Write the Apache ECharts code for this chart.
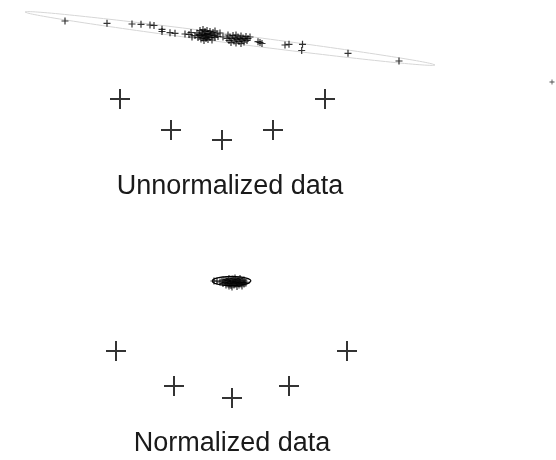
<!DOCTYPE html>
<html>
<head>
<meta charset="utf-8">
<title>Unnormalized vs normalized data</title>
<script src="https://cdn.jsdelivr.net/npm/echarts@6/dist/echarts.min.js"></script>
</head>
<body style="margin:0;background:#fff">
<div id="container" style="width:556px;height:460px"></div>
<script type="text/javascript">
// raw sample points (top panel)
var rawX = [65,107,132,141,150,154,162,162,170,175,185,189,191,192,
  195,197,198,199,200,200,201,202,202,203,203,204,204,205,205,206,206,207,207,208,208,209,210,210,211,212,212,213,214,215,215,217,218,220,223,
  227,228,229,230,231,232,233,234,235,236,236,237,238,239,240,241,241,242,243,244,245,246,247,248,250,
  258,260,262,285,289,302.5,301.7,348,399];
var rawY = [21,23.3,24,24.3,25,25.5,29.3,31.5,32.7,33.3,34,34.5,32.5,37,
  35.5,33,37.5,34.5,30.5,36,39,33,35.5,29.5,38,34,40.5,31.5,36,38.5,34.5,30.5,37,33.5,39.5,35,31.5,37.5,34,36,40,32.5,35.5,31,37.5,34,36.5,33,37,
  38.5,35,40.5,37,42.5,38.5,35.5,41,38,43,35,39.5,37,41.5,38.5,36,43.5,40,38,42,39,36.5,40.5,38.5,37,
  41.7,42.5,43.5,45,44.3,44.3,50.5,53.3,61];

// normalized sample points (bottom panel)
var normX = [214,217,220,222,223,224,225,226,226,227,228,228,229,229,230,230,231,231,232,232,233,233,234,234,235,235,236,236,237,237,238,238,239,239,240,240,241,242,242,243,244,244,245,246];
var normY = [281,281,282,281,283.5,280,282.5,285,279.5,282,284,280.5,286,278.5,282,283.5,280,285.5,281.5,287,279,283,281,285,282.5,278,284,280,286.5,282,279.5,283.5,281,285,282.5,278.5,284,281,286,282.5,280,284,282,283];

// big markers
var bigTopX = [120,171,222,273,325];
var bigTopY = [99,130,140,130,99];
var bigBotX = [116,174,232,289,347];
var bigBotY = [351,386,398,386,351];

// lone point on the right
var loneX = [552];
var loneY = [82];

// covariance ellipses: cx, cy, semi-major, semi-minor, angle (deg)
var rawEllipse = [230, 38.5, 206.7, 4.5, 7.37];
var normEllipse = [231.5, 281, 19.5, 4.5, 0];

function zip(xs, ys) {
  var out = [];
  for (var i = 0; i < xs.length; i++) out.push([xs[i], ys[i]]);
  return out;
}
function ellipsePts(e) {
  var pts = [], n = 160, t = e[4] * Math.PI / 180;
  for (var i = 0; i <= n; i++) {
    var a = 2 * Math.PI * i / n;
    var ex = e[2] * Math.cos(a), ey = e[3] * Math.sin(a);
    pts.push([e[0] + ex * Math.cos(t) - ey * Math.sin(t), e[1] + ex * Math.sin(t) + ey * Math.cos(t)]);
  }
  return pts;
}

var smallPlus = 'path://M2.9,0h1.2v2.9h2.9v1.2h-2.9v2.9h-1.2v-2.9h-2.9v-1.2h2.9z';
var bigPlus = 'path://M9,0h2v9h9v2h-9v9h-2v-9h-9v-2h9z';

var chart = echarts.init(document.getElementById('container'));
chart.setOption({
  animation: false,
  grid: { left: 0, right: 0, top: 0, bottom: 0 },
  xAxis: { type: 'value', min: 0, max: 556, show: false },
  yAxis: { type: 'value', min: 0, max: 460, inverse: true, show: false },
  graphic: [
    { type: 'text', x: 230, y: 187, style: { text: 'Unnormalized data', font: '27px "Liberation Sans"', fill: '#1a1a1a', textAlign: 'center', textVerticalAlign: 'middle' } },
    { type: 'text', x: 232, y: 444, style: { text: 'Normalized data', font: '27px "Liberation Sans"', fill: '#1a1a1a', textAlign: 'center', textVerticalAlign: 'middle' } }
  ],
  series: [
    { type: 'line', data: ellipsePts(rawEllipse), showSymbol: false, lineStyle: { color: '#d6d6d6', width: 1 }, z: 1 },
    { type: 'line', data: ellipsePts(normEllipse), showSymbol: false, lineStyle: { color: '#000', width: 1.3 }, z: 1 },
    { type: 'scatter', data: zip(rawX, rawY), symbol: smallPlus, symbolSize: 7, itemStyle: { color: '#000' }, z: 2 },
    { type: 'scatter', data: zip(normX, normY), symbol: smallPlus, symbolSize: 7, itemStyle: { color: '#000' }, z: 2 },
    { type: 'scatter', data: zip(bigTopX, bigTopY).concat(zip(bigBotX, bigBotY)), symbol: bigPlus, symbolSize: 20, itemStyle: { color: '#000' }, z: 2 },
    { type: 'scatter', data: zip(loneX, loneY), symbol: smallPlus, symbolSize: 5, itemStyle: { color: '#222' }, z: 2 }
  ]
});
</script>
</body>
</html>
